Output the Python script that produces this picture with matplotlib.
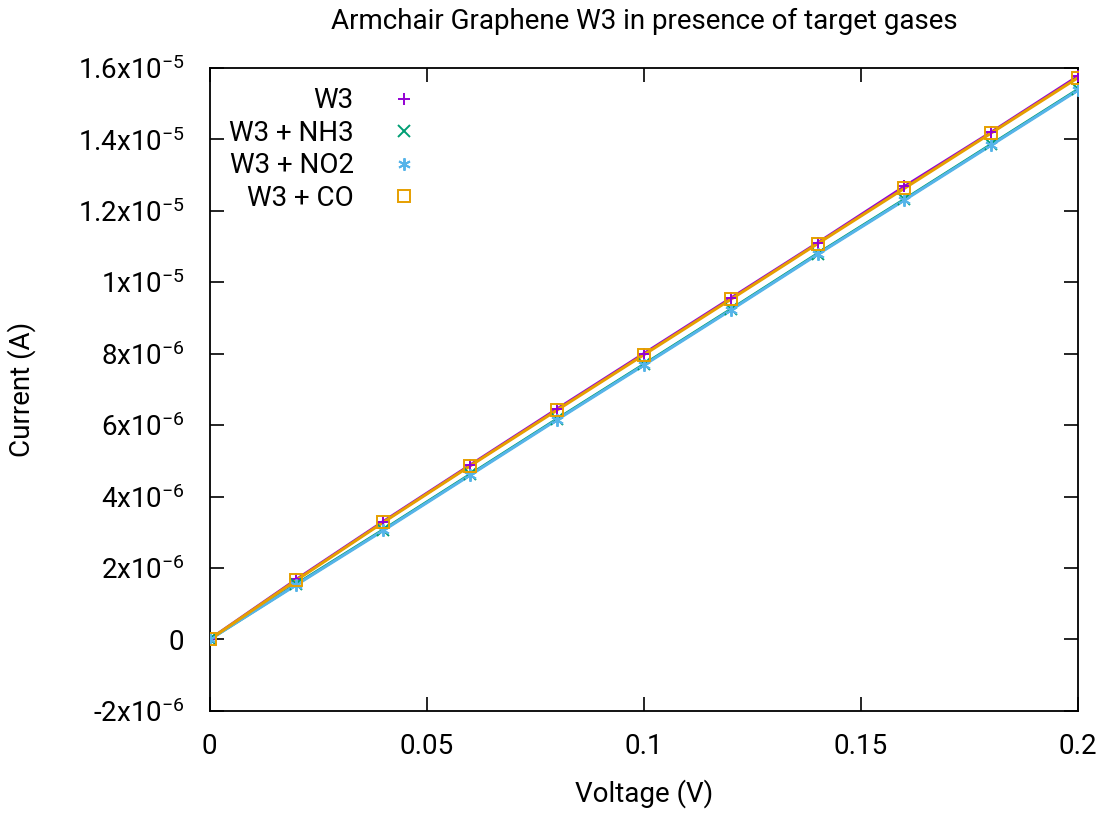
import matplotlib
matplotlib.use('Agg')
import matplotlib.pyplot as plt
from matplotlib.ticker import FuncFormatter, MultipleLocator

# ======================
# DATA
# ======================
voltage = [0.0, 0.02, 0.04, 0.06, 0.08, 0.10, 0.12, 0.14, 0.16, 0.18, 0.20]
w3 = [0.0, 1.68e-6, 3.30e-6, 4.88e-6, 6.45e-6, 8.00e-6, 9.55e-6, 11.10e-6, 12.68e-6, 14.20e-6, 15.77e-6]
w3_nh3 = [0.0, 1.55e-6, 3.07e-6, 4.62e-6, 6.17e-6, 7.70e-6, 9.24e-6, 10.80e-6, 12.32e-6, 13.86e-6, 15.40e-6]
w3_no2 = [0.0, 1.53e-6, 3.05e-6, 4.60e-6, 6.15e-6, 7.68e-6, 9.22e-6, 10.78e-6, 12.30e-6, 13.84e-6, 15.38e-6]
w3_co = [0.0, 1.66e-6, 3.28e-6, 4.86e-6, 6.42e-6, 7.97e-6, 9.52e-6, 11.08e-6, 12.63e-6, 14.18e-6, 15.73e-6]

series = [
    ('W3', w3, '#9400d3', '+'),
    ('W3 + NH3', w3_nh3, '#009e73', 'x'),
    ('W3 + NO2', w3_no2, '#56b4e9', (6, 2, 0)),
    ('W3 + CO', w3_co, '#e69f00', 's'),
]

# ======================
# STYLE
# ======================
plt.rcParams['font.family'] = ['Roboto', 'DejaVu Sans']
plt.rcParams['font.size'] = 20
plt.rcParams['mathtext.fontset'] = 'custom'
plt.rcParams['mathtext.rm'] = 'Roboto'
plt.rcParams['mathtext.it'] = 'Roboto'
plt.rcParams['mathtext.default'] = 'regular'


def sci_fmt(v, pos):
    if abs(v) < 1e-12:
        return '0'
    exp = 0
    m = v
    while abs(m) >= 10:
        m /= 10.0
        exp += 1
    while abs(m) < 1:
        m *= 10.0
        exp -= 1
    mant = ('%.1f' % m).rstrip('0').rstrip('.')
    return r'%sx10$^{%d}$' % (mant, exp)


def x_fmt(v, pos):
    return ('%.2f' % v).rstrip('0').rstrip('.') if v != 0 else '0'


fig = plt.figure(figsize=(11.15, 8.18), dpi=100)
ax = fig.add_axes([0.188, 0.131, 0.779, 0.786])

for label, vals, color, marker in series:
    ax.plot(voltage, vals, color=color, linewidth=2.2, zorder=2)
for label, vals, color, marker in series:
    mfc = 'none' if marker == 's' else color
    ax.plot(voltage, vals, linestyle='none', marker=marker, markersize=9,
            markeredgewidth=1.4, color=color, markerfacecolor=mfc,
            label=label, zorder=3)

ax.set_xlim(0, 0.2)
ax.set_ylim(-2e-6, 1.6e-5)
ax.xaxis.set_major_locator(MultipleLocator(0.05))
ax.yaxis.set_major_locator(MultipleLocator(2e-6))
ax.xaxis.set_major_formatter(FuncFormatter(x_fmt))
ax.yaxis.set_major_formatter(FuncFormatter(sci_fmt))
ax.tick_params(direction='in', length=10, width=1.2, top=True, right=True)
ax.tick_params(axis='x', pad=16)
ax.tick_params(axis='y', pad=18)
for s in ax.spines.values():
    s.set_linewidth(1.3)

ax.set_title('Armchair Graphene W3 in presence of target gases', fontsize=20, pad=28)
ax.set_xlabel('Voltage (V)', labelpad=14)
ax.set_ylabel('Current (A)', labelpad=30)

ax.legend(loc='upper left', bbox_to_anchor=(0.0, 1.0), frameon=False,
          markerfirst=False, handlelength=1.0, handletextpad=1.3,
          labelspacing=0.2, borderaxespad=0.3)

plt.savefig('out.png', dpi=100)
